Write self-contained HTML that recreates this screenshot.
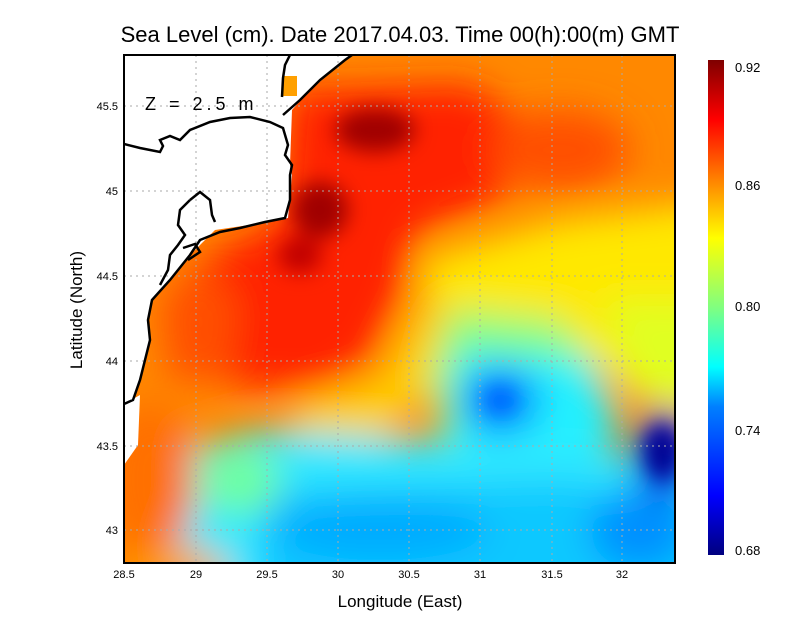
<!DOCTYPE html><html><head><style>body{margin:0;background:#fff;width:800px;height:618px;overflow:hidden;font-family:"Liberation Sans",sans-serif}</style></head><body>
<svg width="800" height="618" xmlns="http://www.w3.org/2000/svg" font-family="Liberation Sans, sans-serif">
<defs>
<filter id="b" x="-50%" y="-50%" width="200%" height="200%"><feGaussianBlur stdDeviation="18"/></filter>
<filter id="b2" x="-50%" y="-50%" width="200%" height="200%"><feGaussianBlur stdDeviation="10"/></filter>
<clipPath id="c"><rect x="124" y="55" width="551" height="508"/></clipPath>
<linearGradient id="cb" x1="0" y1="1" x2="0" y2="0">
<stop offset="0" stop-color="#00007f"/><stop offset="0.12" stop-color="#0000ff"/><stop offset="0.3" stop-color="#0080ff"/><stop offset="0.38" stop-color="#00ffff"/><stop offset="0.5" stop-color="#80ff80"/><stop offset="0.64" stop-color="#ffff00"/><stop offset="0.76" stop-color="#ff8000"/><stop offset="0.88" stop-color="#ff0000"/><stop offset="1" stop-color="#7f0000"/></linearGradient>
</defs>
<text x="400" y="42" font-size="22" text-anchor="middle">Sea Level (cm). Date 2017.04.03. Time 00(h):00(m) GMT</text>
<g clip-path="url(#c)">
<rect x="124" y="55" width="551" height="508" fill="#ff8800"/>
<g filter="url(#b)">
<polygon points="560,220 720,200 720,420 640,400 560,330 430,320 420,260" fill="#ffe800"/>
<polygon points="600,300 720,300 720,400 640,400" fill="#e0ff20"/>
<polygon points="420,300 460,300 440,380 380,440 280,450 300,400 380,380" fill="#ffd000"/>
<polygon points="450,310 560,320 600,370 600,450 450,470 430,380" fill="#80ff80"/>
<polygon points="460,350 590,360 620,420 600,470 460,470 450,400" fill="#20f0ff"/>
<polygon points="190,450 260,430 440,440 600,450 720,470 720,620 190,620 170,540" fill="#30e8ff"/>
<polygon points="260,490 560,480 720,500 720,620 260,620" fill="#10c8ff"/>
<ellipse cx="380" cy="530" rx="110" ry="30" fill="#00aaff"/>
<ellipse cx="640" cy="530" rx="50" ry="40" fill="#0090ff"/>
<ellipse cx="240" cy="480" rx="40" ry="35" fill="#70ffa0"/>
<ellipse cx="500" cy="400" rx="40" ry="35" fill="#0090ff"/>
<ellipse cx="665" cy="455" rx="30" ry="45" fill="#0020e0"/>
<polygon points="290,90 470,85 520,120 500,200 420,230 400,300 370,360 320,390 230,385 200,330 200,260 280,220" fill="#ff2000"/>
<polygon points="160,300 200,260 240,300 230,380 170,380" fill="#ff5000"/>
<ellipse cx="560" cy="150" rx="70" ry="40" fill="#ff5000"/>
<ellipse cx="150" cy="480" rx="45" ry="80" fill="#ff7000"/>
<ellipse cx="180" cy="570" rx="50" ry="20" fill="#ffa000"/>
</g>
<g filter="url(#b2)">
<ellipse cx="375" cy="130" rx="40" ry="22" fill="#a00000"/>
<ellipse cx="320" cy="210" rx="28" ry="28" fill="#a00000"/>
<ellipse cx="300" cy="255" rx="22" ry="18" fill="#c00000"/>
<ellipse cx="662" cy="452" rx="16" ry="28" fill="#000090"/>
<ellipse cx="500" cy="400" rx="16" ry="13" fill="#0060ff"/>
</g>
<polygon points="124,55 350,55 305,95 292,110 290,165 292,175 288,218 270,222 215,230 200,245 185,260 165,285 152,300 148,320 150,340 145,360 140,380 133,400 124,404" fill="#fff"/>
<polygon points="124,404 140,395 138,445 124,465" fill="#fff"/>
<rect x="283" y="76" width="14" height="20" fill="#ffa000"/>
<g stroke="#aaa" stroke-dasharray="2,4" stroke-width="1">
<line x1="196" y1="55" x2="196" y2="563"/><line x1="267" y1="55" x2="267" y2="563"/><line x1="338" y1="55" x2="338" y2="563"/><line x1="409" y1="55" x2="409" y2="563"/><line x1="480" y1="55" x2="480" y2="563"/><line x1="552" y1="55" x2="552" y2="563"/><line x1="622" y1="55" x2="622" y2="563"/>
<line x1="124" y1="106" x2="675" y2="106"/><line x1="124" y1="191" x2="675" y2="191"/><line x1="124" y1="276" x2="675" y2="276"/><line x1="124" y1="361" x2="675" y2="361"/><line x1="124" y1="446" x2="675" y2="446"/><line x1="124" y1="530" x2="675" y2="530"/>
</g>
<g fill="none" stroke="#000" stroke-width="2.5">
<path d="M124,144 L140,148 L160,152 L163,146 L160,140 L170,136 L180,140 L190,130 L210,122 L230,118 L250,117 L270,122 L283,128 L288,145 L285,155 L292,165 L290,175 L290,200 L285,218 L265,222 L240,228 L220,232 L200,240 L190,255 L170,280 L152,300 L148,320 L150,340 L145,360 L140,380 L133,400 L124,404"/>
<path d="M283,115 L300,100 L320,80 L345,60 L352,55"/>
<path d="M282,97 L283,78 L285,65 L290,55"/>
<path d="M190,200 L180,210 L178,225 L185,235 L178,245 L170,255 L168,270 L160,285"/>
<path d="M190,200 L200,192 L210,200 L212,215 L215,222"/>
<path d="M183,248 L195,244 L200,252 L188,260"/>
</g>
<text x="145" y="110" font-size="18" fill="#000" letter-spacing="4">Z = 2.5 m</text>
</g>
<rect x="124" y="55" width="551" height="508" fill="none" stroke="#000" stroke-width="2"/>
<g font-size="11" text-anchor="middle">
<text x="124" y="578">28.5</text><text x="196" y="578">29</text><text x="267" y="578">29.5</text><text x="338" y="578">30</text><text x="409" y="578">30.5</text><text x="480" y="578">31</text><text x="552" y="578">31.5</text><text x="622" y="578">32</text>
</g>
<g font-size="11" text-anchor="end">
<text x="118" y="110">45.5</text><text x="118" y="195">45</text><text x="118" y="280">44.5</text><text x="118" y="365">44</text><text x="118" y="450">43.5</text><text x="118" y="534">43</text>
</g>
<text x="400" y="607" font-size="17" text-anchor="middle">Longitude (East)</text>
<text x="82" y="310" font-size="17" text-anchor="middle" transform="rotate(-90 82 310)">Latitude (North)</text>
<rect x="708" y="60" width="16" height="495" fill="url(#cb)"/>
<g font-size="13">
<text x="735" y="72">0.92</text><text x="735" y="190">0.86</text><text x="735" y="311">0.80</text><text x="735" y="435">0.74</text><text x="735" y="555">0.68</text>
</g>
</svg></body></html>
